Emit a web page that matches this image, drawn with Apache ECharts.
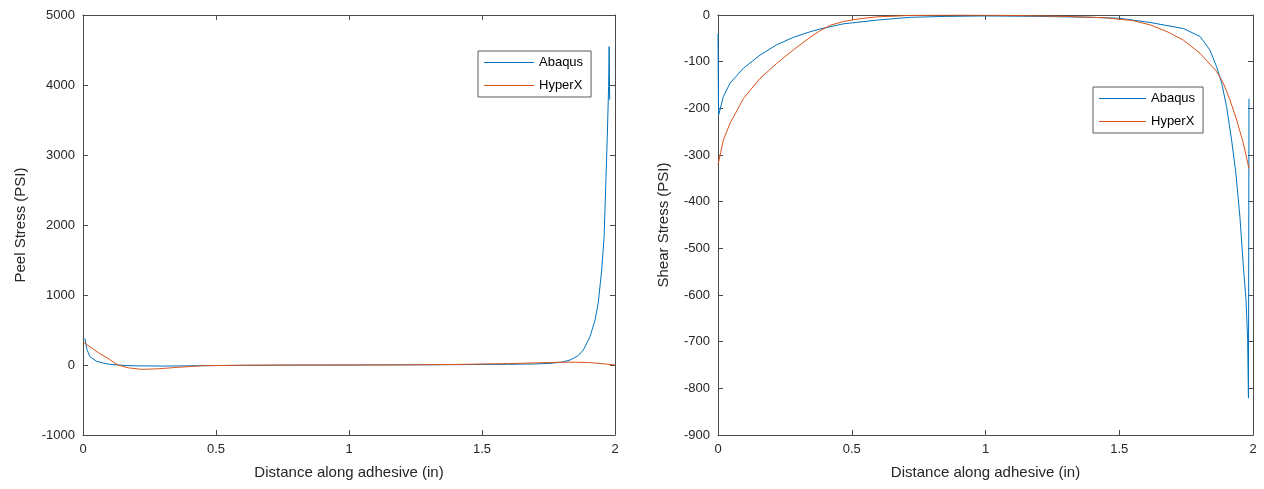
<!DOCTYPE html>
<html><head><meta charset="utf-8">
<script src="https://cdn.jsdelivr.net/npm/echarts@6/dist/echarts.min.js"></script>
<style>html,body{margin:0;padding:0;background:#fff}#c{width:1264px;height:489px}</style>
</head><body><div id="c"></div>
<script>
var seriesNames = ['Abaqus', 'HyperX'];
var xTicks = [0, 0.5, 1, 1.5, 2];

var peelAbaqusX = [0.007, 0.015, 0.026, 0.05, 0.075, 0.1, 0.15, 0.2, 0.3, 0.4, 0.5, 0.7, 1.0, 1.3, 1.5, 1.6, 1.7, 1.75, 1.8, 1.831, 1.86, 1.881, 1.906, 1.925, 1.937, 1.95, 1.959, 1.965, 1.971, 1.976, 1.978, 1.98];
var peelAbaqus  = [380, 220, 119, 55, 29, 10, -5, -12, -15, -12, -8, -3, 0, 3, 8, 10, 15, 22, 40, 71, 130, 214, 404, 643, 886, 1357, 1833, 2547, 3261, 3976, 4547, 3790];
var peelHyperXX = [0, 0.03, 0.06, 0.1, 0.13, 0.17, 0.22, 0.28, 0.35, 0.45, 0.6, 0.8, 1.0, 1.2, 1.4, 1.6, 1.7, 1.8, 1.85, 1.9, 1.95, 2.0];
var peelHyperX  = [330, 250, 170, 80, 0, -40, -62, -55, -35, -10, -3, 0, 0, 2, 8, 20, 30, 40, 40, 35, 20, 0];

var shearAbaqusX = [0, 0.002, 0.02, 0.045, 0.095, 0.157, 0.219, 0.281, 0.344, 0.381, 0.468, 0.593, 0.718, 0.85, 1.0, 1.2, 1.4, 1.5, 1.615, 1.74, 1.802, 1.839, 1.864, 1.883, 1.901, 1.92, 1.936, 1.951, 1.964, 1.974, 1.98, 1.983, 1.985];
var shearAbaqus  = [-40, -215, -175, -146, -114, -86, -64, -48, -36, -30, -19, -11, -5, -3, -2, -3, -5, -7, -16, -29, -46, -75, -111, -146, -196, -268, -339, -432, -539, -611, -696, -821, -179];
var shearHyperXX = [0, 0.02, 0.045, 0.095, 0.157, 0.219, 0.281, 0.344, 0.381, 0.42, 0.468, 0.53, 0.593, 0.718, 0.9, 1.1, 1.3, 1.45, 1.55, 1.615, 1.68, 1.74, 1.802, 1.864, 1.889, 1.914, 1.939, 1.964, 1.985];
var shearHyperX  = [-321, -268, -232, -179, -136, -104, -75, -48, -34, -22, -14, -8, -4, -1, 0, -1, -3, -6, -12, -21, -36, -54, -82, -121, -146, -182, -225, -275, -329];

function pairs(xs, ys){ return xs.map(function(x,i){ return [x, ys[i]]; }); }

var axisColor = '#262626';
var tickFont = {color: axisColor, fontSize: 13, fontFamily: 'Liberation Sans, Arial'};
function xAx(grid, pos, show){
  return {type:'value', gridIndex:grid, position:pos, min:0, max:2, interval:0.5,
    name: show ? 'Distance along adhesive (in)' : '', nameLocation:'middle', nameGap:30,
    nameTextStyle:{color:axisColor, fontSize:15, fontFamily:'Liberation Sans, Arial'},
    axisLine:{show:true, onZero:false, lineStyle:{color:'#4a4a4a', width:1}},
    axisTick:{show:true, inside:true, length:5, lineStyle:{color:'#4a4a4a'}},
    axisLabel: show ? Object.assign({margin:8, formatter:function(v){return String(v);}}, tickFont) : {show:false},
    splitLine:{show:false}};
}
function yAx(grid, pos, show, min, max, interval, name){
  return {type:'value', gridIndex:grid, position:pos, min:min, max:max, interval:interval,
    name: show ? name : '', nameLocation:'middle', nameGap: grid===0 ? 55 : 47, nameRotate:90,
    nameTextStyle:{color:axisColor, fontSize:15, fontFamily:'Liberation Sans, Arial'},
    axisLine:{show:true, onZero:false, lineStyle:{color:'#4a4a4a', width:1}},
    axisTick:{show:true, inside:true, length:5, lineStyle:{color:'#4a4a4a'}},
    axisLabel: show ? Object.assign({margin:8, formatter:function(v){return String(v);}}, tickFont) : {show:false},
    splitLine:{show:false}};
}
var blue = '#0072BD', orange = '#D95319';
function line(name, xi, yi, data, color){
  return {name:name, type:'line', xAxisIndex:xi, yAxisIndex:yi, data:data, symbol:'none', showSymbol:false,
    smooth:false, lineStyle:{color:color, width:1}, itemStyle:{color:color}, animation:false, z:3};
}
function legend(left, top, w){
  return {orient:'vertical', left:left, top:top, data:seriesNames, icon:'rect', itemWidth:w, itemHeight:1,
    itemGap:8, padding:[4,8,4,6], backgroundColor:'#fff', borderColor:'#5a5a5a', borderWidth:1,
    textStyle:{color:'#000', fontSize:13, fontFamily:'Liberation Sans, Arial', padding:[0,0,0,0], lineHeight:15}};
}

var chart = echarts.init(document.getElementById('c'), null, {renderer:'canvas'});
chart.setOption({
  animation:false,
  grid:[{left:83, top:15, width:532, height:420}, {left:718, top:15, width:535, height:420}],
  xAxis:[xAx(0,'bottom',true), xAx(0,'top',false), xAx(1,'bottom',true), xAx(1,'top',false)],
  yAxis:[yAx(0,'left',true,-1000,5000,1000,'Peel Stress (PSI)'), yAx(0,'right',false,-1000,5000,1000,''),
         yAx(1,'left',true,-900,0,100,'Shear Stress (PSI)'), yAx(1,'right',false,-900,0,100,'')],
  legend:[legend(478, 51, 50), legend(1093, 87, 47)],
  series:[
    line('Abaqus', 0, 0, pairs(peelAbaqusX, peelAbaqus), blue),
    line('HyperX', 0, 0, pairs(peelHyperXX, peelHyperX), orange),
    line('Abaqus', 2, 2, pairs(shearAbaqusX, shearAbaqus), blue),
    line('HyperX', 2, 2, pairs(shearHyperXX, shearHyperX), orange)
  ]
});
</script></body></html>
